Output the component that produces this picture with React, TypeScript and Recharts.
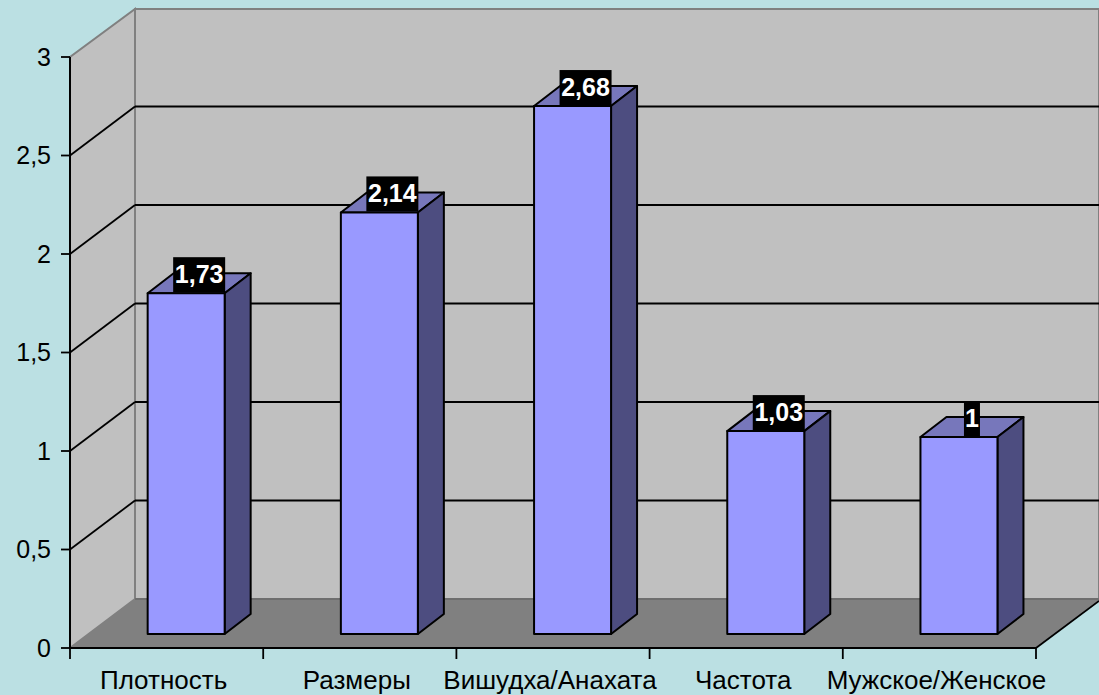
import { BarChart, Bar, XAxis, YAxis, LabelList } from "recharts";

const categories = ["Плотность", "Размеры", "Вишудха/Анахата", "Частота", "Мужское/Женское"];
const values = [1.73, 2.14, 2.68, 1.03, 1];
const yTicks = [0, 0.5, 1, 1.5, 2, 2.5, 3];

const data = categories.map((name, i) => ({ name, value: values[i] }));

const W = 1099;
const H = 695;
const xAxisH = 47;
const margin = { top: 57, right: 63, bottom: 0, left: 0 };
const axisW = 70;
const FONT = "'Liberation Sans', Arial, sans-serif";

// 3d look
const wallDx = 65;
const wallDy = 49;
const barDx = 19.7;
const barDy = 14;
const sideDx = 26;
const sideDy = 20;

const comma = (v: number) => String(v).replace(".", ",");

const plotL = axisW;
const plotR = W - margin.right;
const plotB = H - xAxisH;
const plotT = margin.top;
const band = (plotR - plotL) / categories.length;
const yAt = (v: number) => plotB - (v / 3) * (plotB - plotT);

function Room() {
    const backL = plotL + wallDx;
    const backB = plotB - wallDy;
    const backT = plotT - wallDy + 1;
    return (
        <g>
            <rect x={backL} y={backT} width={W - backL} height={backB - backT} fill="#c0c0c0" stroke="#808080" strokeWidth={2} />
            <polygon
                points={`${plotL},${plotB} ${backL},${backB} ${backL},${backT} ${plotL},${plotT}`}
                fill="#c0c0c0"
                stroke="#808080"
                strokeWidth={2}
            />
            <polygon
                points={`${plotL},${plotB} ${backL},${backB} ${W},${backB} ${W},${backB + 2} ${plotR},${plotB}`}
                fill="#808080"
            />
            <line x1={backL} y1={backB} x2={W} y2={backB} stroke="#6e6e6e" strokeWidth={2} />
            <line x1={plotR} y1={plotB} x2={W} y2={backB + 2} stroke="#000" strokeWidth={1.8} />
            {yTicks.slice(1, -1).map((t) => (
                <g key={t} stroke="#000" strokeWidth={1.8}>
                    <line x1={plotL} y1={yAt(t)} x2={backL} y2={yAt(t) - wallDy} />
                    <line x1={backL} y1={yAt(t) - wallDy} x2={W} y2={yAt(t) - wallDy} />
                </g>
            ))}
        </g>
    );
}

function Bar3d(props: any) {
    const { x, y, width, height } = props;
    const fx = x + barDx;
    const fy = y - barDy;
    const r = fx + width;
    const b = fy + height;
    return (
        <g stroke="#000" strokeWidth={2} strokeLinejoin="round">
            <polygon
                points={`${fx},${fy} ${fx + sideDx},${fy - sideDy} ${r + sideDx},${fy - sideDy} ${r},${fy}`}
                fill="#7777bb"
            />
            <polygon
                points={`${r},${fy} ${r + sideDx},${fy - sideDy} ${r + sideDx},${b - sideDy} ${r},${b}`}
                fill="#4d4d80"
            />
            <rect x={fx} y={fy} width={width} height={height} fill="#9999ff" />
        </g>
    );
}

function ValueLabel(props: any) {
    const { x, y, width, value } = props;
    const s = comma(value);
    const textW = s.length === 1 ? 10 : 46;
    const boxW = textW + 6;
    const cx = x + barDx + width / 2 + 13;
    const top = y - barDy - 36;
    return (
        <g>
            <rect x={cx - boxW / 2} y={top} width={boxW} height={35} fill="#000" />
            <text x={cx} y={top + 26} textAnchor="middle" fill="#fff" fontFamily={FONT} fontWeight="bold" fontSize={25}>
                {s}
            </text>
        </g>
    );
}

function CategoryTick(props: any) {
    const { x, y, payload, index } = props;
    return (
        <g>
            <line x1={x + band / 2} y1={y - 8} x2={x + band / 2} y2={y + 3} stroke="#000" strokeWidth={1.8} />
            {index === 0 && <line x1={x - band / 2} y1={y - 8} x2={x - band / 2} y2={y + 3} stroke="#000" strokeWidth={1.8} />}
            <text x={x - 3} y={y + 33} textAnchor="middle" fill="#000" fontFamily={FONT} fontSize={26}>
                {payload.value}
            </text>
        </g>
    );
}

export default function App() {
    return (
        <div style={{ position: "absolute", left: 0, top: 0, width: W, height: H, background: "#bbe0e3" }}>
            <BarChart width={W} height={H} data={data} margin={margin} barCategoryGap="30%">
                <Room />
                <XAxis
                    dataKey="name"
                    interval={0}
                    height={xAxisH}
                    tickLine={false}
                    axisLine={{ stroke: "#000", strokeWidth: 2 }}
                    tick={<CategoryTick />}
                />
                <YAxis
                    width={axisW}
                    domain={[0, 3]}
                    ticks={yTicks}
                    tickFormatter={comma}
                    tickSize={9}
                    tickMargin={10}
                    axisLine={{ stroke: "#000", strokeWidth: 2 }}
                    tickLine={{ stroke: "#000", strokeWidth: 1.8 }}
                    tick={{ fill: "#000", fontFamily: FONT, fontSize: 25 }}
                />
                <Bar dataKey="value" shape={<Bar3d />} isAnimationActive={false}>
                    <LabelList dataKey="value" content={<ValueLabel />} />
                </Bar>
            </BarChart>
        </div>
    );
}
